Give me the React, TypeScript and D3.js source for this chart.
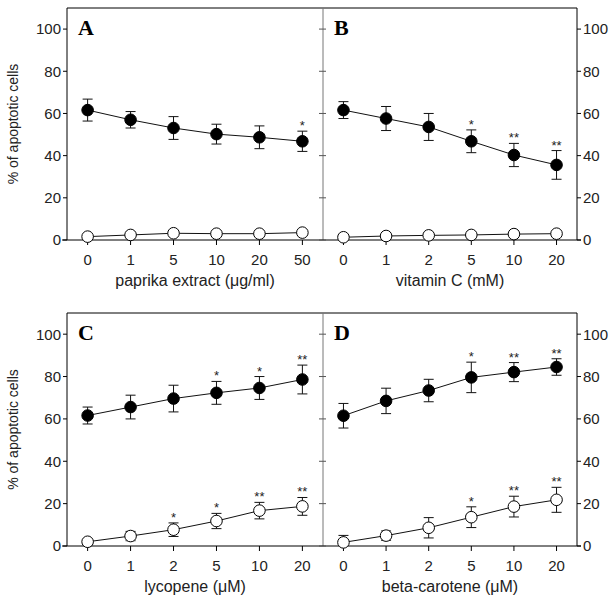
import React from 'react';
import { scaleLinear, scalePoint, line } from 'd3';

// x categories per panel
const catsA = ['0', '1', '5', '10', '20', '50'];
const catsB = ['0', '1', '2', '5', '10', '20'];
const catsC = ['0', '1', '2', '5', '10', '20'];
const catsD = ['0', '1', '2', '5', '10', '20'];

// filled circles (mean, error)
const fillA = [61.6, 57.0, 53.1, 50.2, 48.7, 46.8];
const fillErrA = [5.2, 3.9, 5.4, 4.7, 5.4, 4.8];
const openA = [1.6, 2.4, 3.2, 3.0, 3.0, 3.5];
const openErrA = [0.5, 0.5, 0.5, 0.5, 0.5, 0.5];
const fillStarA = ['', '', '', '', '', '*'];
const openStarA = ['', '', '', '', '', ''];

const fillB = [61.6, 57.6, 53.6, 46.8, 40.3, 35.6];
const fillErrB = [4.0, 5.7, 6.4, 5.4, 5.5, 6.8];
const openB = [1.3, 1.9, 2.2, 2.4, 2.8, 3.0];
const openErrB = [0.5, 0.5, 0.5, 0.5, 0.5, 0.5];
const fillStarB = ['', '', '', '*', '**', '**'];
const openStarB = ['', '', '', '', '', ''];

const fillC = [61.6, 65.6, 69.6, 72.3, 74.6, 78.6];
const fillErrC = [4.0, 5.6, 6.3, 5.4, 5.4, 6.8];
const openC = [2.0, 4.7, 7.7, 11.8, 16.7, 18.7];
const openErrC = [1.0, 2.2, 3.2, 3.6, 3.9, 4.2];
const fillStarC = ['', '', '', '*', '*', '**'];
const openStarC = ['', '', '*', '*', '**', '**'];

const fillD = [61.5, 68.5, 73.4, 79.6, 82.1, 84.5];
const fillErrD = [5.8, 6.0, 5.3, 7.2, 4.5, 3.9];
const openD = [1.7, 4.9, 8.6, 13.6, 18.6, 21.8];
const openErrD = [3.3, 2.2, 4.8, 4.9, 4.9, 5.9];
const fillStarD = ['', '', '', '*', '**', '**'];
const openStarD = ['', '', '', '*', '**', '**'];

const yTicks = [0, 20, 40, 60, 80, 100];

const SANS = 'Liberation Sans, Arial, sans-serif';
const SERIF = 'Liberation Serif, Times New Roman, serif';

const LEFT = 67;
const MID = 323;
const RIGHT = 577;

type Series = { mean: number[]; err: number[]; stars: string[]; filled: boolean };

function Panel({ x0, x1, top, bottom, cats, series, letter, xTitle, axisSide }: {
    x0: number; x1: number; top: number; bottom: number; cats: string[];
    series: Series[]; letter: string; xTitle: string; axisSide: 'left' | 'right';
}) {
    const x = scalePoint<string>().domain(cats).range([x0, x1]).padding(0.48);
    const y = scaleLinear().domain([0, 110]).range([bottom, top]);
    const lineGen = line<number>().x((_, i) => x(cats[i]) ?? 0).y((d) => y(d));

    return (
        <g>
            {/* y axis ticks and labels */}
            {yTicks.map((t) => (
                <g key={`t-${t}`}>
                    {axisSide === 'left' ? (
                        <>
                            <line x1={x0 - 4} x2={x0} y1={y(t)} y2={y(t)} stroke="#000" />
                            <text x={x0 - 6} y={y(t)} dy="0.36em" textAnchor="end" fontSize={15} fontFamily={SANS} fill="#222">{t}</text>
                            <line x1={x1 - 4} x2={x1} y1={y(t)} y2={y(t)} stroke="#555" />
                        </>
                    ) : (
                        <>
                            <line x1={x1} x2={x1 + 4} y1={y(t)} y2={y(t)} stroke="#000" />
                            <text x={x1 + 6} y={y(t)} dy="0.36em" textAnchor="start" fontSize={15} fontFamily={SANS} fill="#222">{t}</text>
                            <line x1={x0} x2={x0 + 3} y1={y(t)} y2={y(t)} stroke="#555" />
                        </>
                    )}
                </g>
            ))}

            {/* x ticks and labels */}
            {cats.map((c) => (
                <g key={`x-${c}`}>
                    <line x1={x(c)} x2={x(c)} y1={bottom} y2={bottom + 5} stroke="#000" />
                    <text x={x(c)} y={bottom + 25} textAnchor="middle" fontSize={15} fontFamily={SANS} fill="#222">{c}</text>
                </g>
            ))}
            <text x={(x0 + x1) / 2} y={bottom + 46} textAnchor="middle" fontSize={16} fontFamily={SANS} fill="#222">{xTitle}</text>

            <text x={x0 + 11} y={top + 27} fontSize={22} fontWeight="bold" fontFamily={SERIF} fill="#000">{letter}</text>

            {series.map((s, si) => (
                <g key={`s-${si}`}>
                    {s.mean.map((m, i) => {
                        const cx = x(cats[i]) ?? 0;
                        const lo = Math.max(0, m - s.err[i]);
                        const hi = m + s.err[i];
                        return (
                            <g key={`e-${i}`} stroke="#111" strokeWidth={1}>
                                <line x1={cx} x2={cx} y1={y(lo)} y2={y(hi)} />
                                <line x1={cx - 5} x2={cx + 5} y1={y(hi)} y2={y(hi)} />
                                {m - s.err[i] > 0 ? <line x1={cx - 5} x2={cx + 5} y1={y(lo)} y2={y(lo)} /> : null}
                            </g>
                        );
                    })}
                    <path d={lineGen(s.mean) ?? ''} fill="none" stroke="#111" strokeWidth={1} />
                    {s.mean.map((m, i) => (
                        <circle
                            key={`c-${i}`}
                            cx={x(cats[i])}
                            cy={y(m)}
                            r={5.8}
                            fill={s.filled ? '#000' : '#fff'}
                            stroke="#000"
                            strokeWidth={1}
                        />
                    ))}
                    {s.stars.map((st, i) => (st ? (
                        <text
                            key={`st-${i}`}
                            x={x(cats[i])}
                            y={y(s.mean[i] + s.err[i]) - 1}
                            textAnchor="middle"
                            fontSize={13}
                            fontFamily={SANS}
                            fill="#222"
                        >
                            {st}
                        </text>
                    ) : null))}
                </g>
            ))}
        </g>
    );
}

function Frame({ top, bottom }: { top: number; bottom: number }) {
    return (
        <g>
            <line x1={LEFT} x2={RIGHT} y1={top} y2={top} stroke="#000" />
            <line x1={LEFT} x2={LEFT} y1={top} y2={bottom} stroke="#000" />
            <line x1={RIGHT} x2={RIGHT} y1={top} y2={bottom} stroke="#000" />
            <line x1={MID} x2={MID} y1={top} y2={bottom} stroke="#777" />
            <line x1={LEFT - 5} x2={RIGHT + 4} y1={bottom} y2={bottom} stroke="#000" />
        </g>
    );
}

export default function App() {
    const top1 = 8, bottom1 = 240;
    const top2 = 313, bottom2 = 546;
    return (
        <svg width={611} height={600} style={{ position: 'absolute', left: 0, top: 0, display: 'block', background: '#fff' }}>
            <rect width={611} height={600} fill="#fff" />
            <Frame top={top1} bottom={bottom1} />
            <Frame top={top2} bottom={bottom2} />

            <Panel x0={LEFT} x1={MID} top={top1} bottom={bottom1} cats={catsA} letter="A"
                xTitle="paprika extract (μg/ml)" axisSide="left"
                series={[
                    { mean: fillA, err: fillErrA, stars: fillStarA, filled: true },
                    { mean: openA, err: openErrA, stars: openStarA, filled: false },
                ]} />
            <Panel x0={MID} x1={RIGHT} top={top1} bottom={bottom1} cats={catsB} letter="B"
                xTitle="vitamin C (mM)" axisSide="right"
                series={[
                    { mean: fillB, err: fillErrB, stars: fillStarB, filled: true },
                    { mean: openB, err: openErrB, stars: openStarB, filled: false },
                ]} />
            <Panel x0={LEFT} x1={MID} top={top2} bottom={bottom2} cats={catsC} letter="C"
                xTitle="lycopene (μM)" axisSide="left"
                series={[
                    { mean: fillC, err: fillErrC, stars: fillStarC, filled: true },
                    { mean: openC, err: openErrC, stars: openStarC, filled: false },
                ]} />
            <Panel x0={MID} x1={RIGHT} top={top2} bottom={bottom2} cats={catsD} letter="D"
                xTitle="beta-carotene (μM)" axisSide="right"
                series={[
                    { mean: fillD, err: fillErrD, stars: fillStarD, filled: true },
                    { mean: openD, err: openErrD, stars: openStarD, filled: false },
                ]} />

            <text transform={`translate(18,${(top1 + bottom1) / 2}) rotate(-90)`} textAnchor="middle" fontSize={14} fontFamily={SANS} fill="#222">% of apoptotic cells</text>
            <text transform={`translate(18,${(top2 + bottom2) / 2}) rotate(-90)`} textAnchor="middle" fontSize={14} fontFamily={SANS} fill="#222">% of apoptotic cells</text>
        </svg>
    );
}
